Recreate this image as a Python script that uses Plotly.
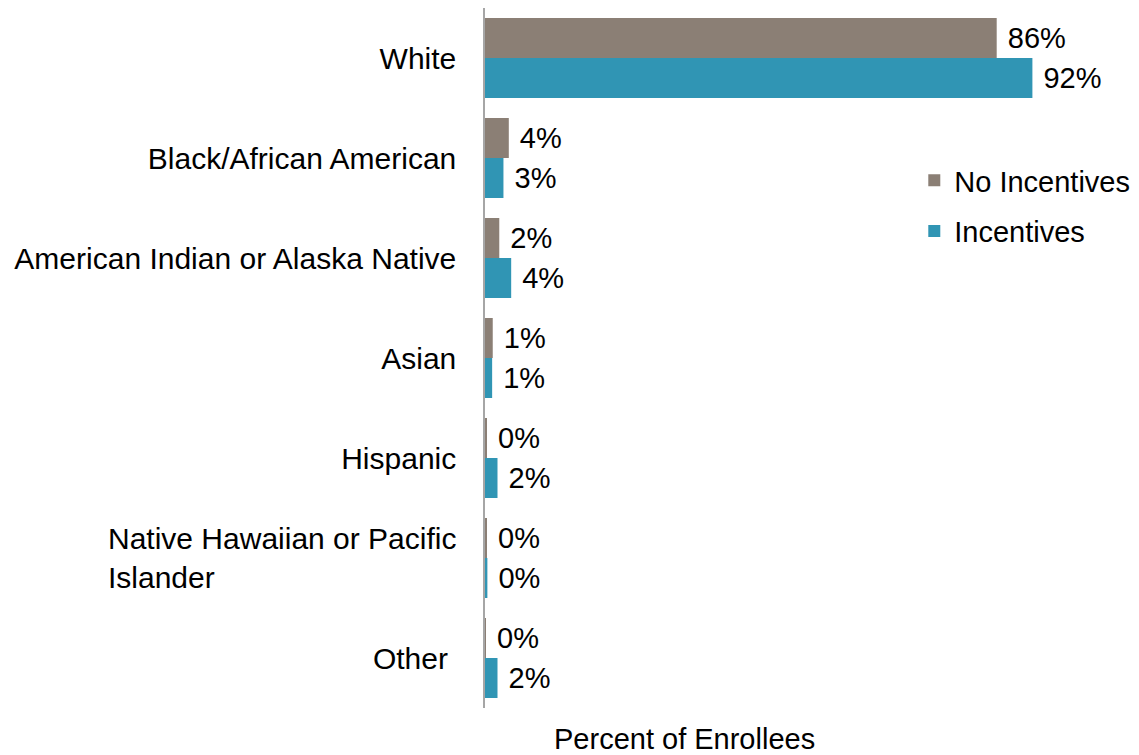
import plotly.graph_objects as go

categories = [
    "White",
    "Black/African American",
    "American Indian or Alaska Native",
    "Asian",
    "Hispanic",
    "Native Hawaiian or Pacific Islander",
    "Other",
]
tick_labels = [
    "White",
    "Black/African American",
    "American Indian or Alaska Native",
    "Asian",
    "Hispanic",
    "",
    "Other\u00a0",
]
no_incentives = [86.0, 4.0, 2.4, 1.3, 0.2, 0.2, 0.1]
incentives = [92.0, 3.1, 4.4, 1.2, 2.1, 0.4, 2.1]
no_inc_labels = ["86%", "4%", "2%", "1%", "0%", "0%", "0%"]
inc_labels = ["92%", "3%", "4%", "1%", "2%", "0%", "2%"]

GRAY = "#8b7f75"
TEAL = "#3095b4"
FONT = "Liberation Sans, Arial, sans-serif"
PAD = "\u00a0"

fig = go.Figure()
fig.add_trace(go.Bar(
    y=categories, x=no_incentives, orientation="h", name="No Incentives",
    legendgroup="a",
    marker=dict(color=GRAY, line=dict(width=0)),
    text=[PAD + t for t in no_inc_labels], textposition="outside", cliponaxis=False,
    textfont=dict(size=29, color="#000000"),
))
fig.add_trace(go.Bar(
    y=categories, x=incentives, orientation="h", name="Incentives",
    legendgroup="b",
    marker=dict(color=TEAL, line=dict(width=0)),
    text=[PAD + t for t in inc_labels], textposition="outside", cliponaxis=False,
    textfont=dict(size=29, color="#000000"),
))

# the page body has an 8px margin, so the figure is sized/offset to fit the window
fig.update_layout(
    width=1131, height=747,
    paper_bgcolor="white", plot_bgcolor="white",
    font=dict(family=FONT, size=30, color="#000000"),
    margin=dict(l=477, r=59, t=0, b=47),
    barmode="group", bargap=0.2, bargroupgap=0,
    legend=dict(x=0.7215, y=0.79, xanchor="left", yanchor="top",
                traceorder="grouped", tracegroupgap=10, font=dict(size=29),
                bgcolor="rgba(0,0,0,0)"),
    showlegend=True,
    annotations=[
        dict(text="Percent of Enrollees", xref="paper", yref="paper",
             x=0.336, y=-0.018, xanchor="center", yanchor="top",
             showarrow=False, font=dict(size=29, color="#000000")),
        dict(text="Native Hawaiian or Pacific<br>Islander", xref="paper", yref="y",
             x=0, y=categories[5], xanchor="right", yanchor="middle", xshift=-27,
             align="left", showarrow=False, font=dict(size=30, color="#000000")),
    ],
)
fig.update_xaxes(range=[0, 100], showgrid=False, zeroline=False,
                 showticklabels=False, showline=False, automargin=False)
fig.update_yaxes(autorange="reversed", showgrid=False, zeroline=False,
                 showline=True, linecolor="#a6a6a6", linewidth=1.5,
                 tickmode="array", tickvals=categories, ticktext=tick_labels,
                 ticks="", ticklabelstandoff=21, automargin=False)

fig.write_html("out.html")
